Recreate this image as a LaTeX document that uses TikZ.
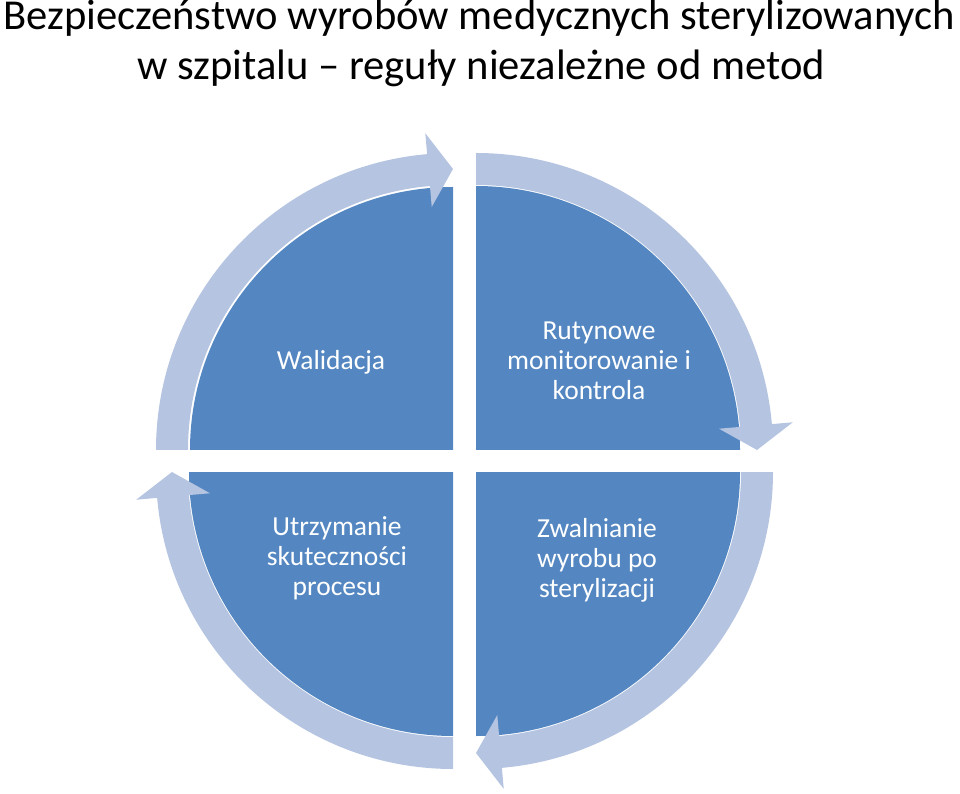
\documentclass[tikz,border=0pt]{standalone}
\usepackage{fontspec}
\setmainfont{Carlito}
\definecolor{quad}{RGB}{84,135,193}
\definecolor{band}{RGB}{181,196,224}
\tikzset{
  quadrant/.style={fill=quad,draw=none},
  cyclearrow/.style={fill=band,draw=none},
  lbl/.style={text=white,align=center,font=\fontsize{27.5}{30}\selectfont,inner sep=0pt},
  ttl/.style={text=black,font=\fontsize{42.6}{50}\selectfont,inner sep=0pt,anchor=base}
}
\begin{document}
\begin{tikzpicture}[x=1pt,y=1pt]
\useasboundingbox (0,0) rectangle (960,793);
% quadrants
\path[quadrant] (453,343) -- ++(180:263pt) arc[start angle=180,end angle=90,radius=263pt] -- cycle;
\path[quadrant] (476,343) -- ++(90:264pt) arc[start angle=90,end angle=0,radius=264pt] -- cycle;
\path[quadrant] (476,321) -- ++(0:264pt) arc[start angle=0,end angle=-90,radius=264pt] -- cycle;
\path[quadrant] (453,321) -- ++(-90:264pt) arc[start angle=-90,end angle=-180,radius=264pt] -- cycle;
% arrows
\begin{scope}[shift={(453,343)}]
\path[cyclearrow] (180:297pt) arc[start angle=180,end angle=95,radius=297pt] -- (95:318pt) -- (90:281pt) -- (95:244pt) -- (95:265pt) arc[start angle=95,end angle=180,radius=265pt] -- cycle;
\end{scope}
\begin{scope}[shift={(476,343)}]
\path[cyclearrow] (90:297pt) arc[start angle=90,end angle=5,radius=297pt] -- (5:318pt) -- (0:281pt) -- (5:244pt) -- (5:265pt) arc[start angle=5,end angle=90,radius=265pt] -- cycle;
\end{scope}
\begin{scope}[shift={(476,321)}]
\path[cyclearrow] (0:297pt) arc[start angle=0,end angle=-85,radius=297pt] -- (-85:318pt) -- (-90:281pt) -- (-85:244pt) -- (-85:265pt) arc[start angle=-85,end angle=0,radius=265pt] -- cycle;
\end{scope}
\begin{scope}[shift={(453,321)}]
\path[cyclearrow] (-90:297pt) arc[start angle=-90,end angle=-175,radius=297pt] -- (-175:318pt) -- (-180:281pt) -- (-175:244pt) -- (-175:265pt) arc[start angle=-175,end angle=-90,radius=265pt] -- cycle;
\end{scope}
% labels
\node[lbl] (walidacja) at (331,431) {Walidacja};
\node[lbl] (rutynowe) at (599,432) {Rutynowe\\monitorowanie i\\kontrola};
\node[lbl] (utrzymanie) at (337,235) {Utrzymanie\\skuteczności\\procesu};
\node[lbl] (zwalnianie) at (597,233) {Zwalnianie\\wyrobu po\\sterylizacji};
% title
\node[ttl] (title1) at (479,763) {Bezpieczeństwo wyrobów medycznych sterylizowanych};
\node[ttl] (title2) at (481,713) {w szpitalu – reguły niezależne od metod};
\end{tikzpicture}
\end{document}
